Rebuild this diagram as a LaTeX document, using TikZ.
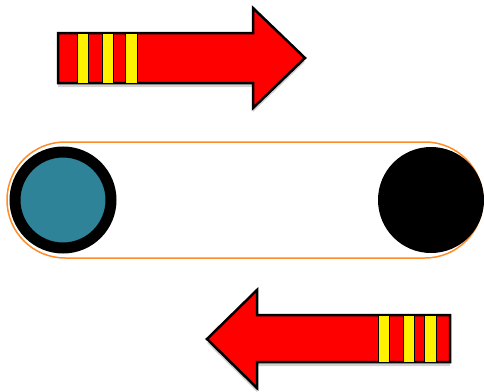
\documentclass[tikz,border=0pt]{standalone}
\usetikzlibrary{shadows}
\definecolor{tealball}{RGB}{46,131,152}
\definecolor{trackorange}{RGB}{255,140,40}
\begin{document}
\begin{tikzpicture}[x=1pt,y=-1pt,line join=miter]
        \tikzstyle{bigarrow} = [draw=black, fill=red, line width=2.5pt, drop shadow={opacity=0.35, shadow xshift=0pt, shadow yshift=-4pt}]
        \tikzstyle{stripe} = [draw=black, fill=yellow, line width=1pt]
        \tikzstyle{track} = [draw=trackorange, line width=1.5pt, rounded corners=58pt]
        \useasboundingbox (0,0) rectangle (484,391);

        % Top arrow (to the right)
        \draw[bigarrow] (58,33) -- (253,33) -- (253,8) -- (305,58) -- (253,108) -- (253,83) -- (58,83) -- cycle;
        \foreach \xa/\xb in {77/88, 102/113, 125/137}
            \draw[stripe] (\xa,33) rectangle (\xb,83);

        % Track
        \draw[track] (7,142) rectangle (483,258);

        % Balls
        \draw[fill=tealball, draw=black, line width=11pt] (63,200) circle (48);
        \fill[black] (431,200) circle (53);

        % Bottom arrow (to the left)
        \draw[bigarrow] (450,315) -- (257,315) -- (257,290) -- (207,339) -- (257,388) -- (257,362) -- (450,362) -- cycle;
        \foreach \xa/\xb in {378/389, 403/414, 424/436}
            \draw[stripe] (\xa,315) rectangle (\xb,362);
    \end{tikzpicture}
\end{document}
